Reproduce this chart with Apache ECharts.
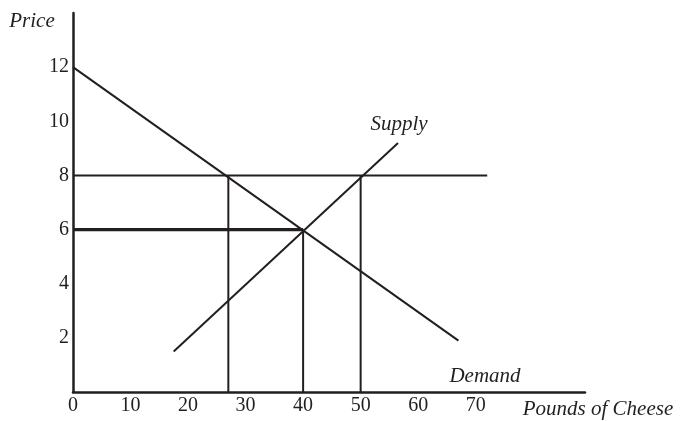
<!DOCTYPE html>
<html>
<head>
<meta charset="utf-8">
<script src="https://cdn.jsdelivr.net/npm/echarts@6/dist/echarts.min.js"></script>
<style>
html,body{margin:0;padding:0;background:#fff;}
#chart{width:683px;height:421px;}
</style>
</head>
<body>
<div id="chart"></div>
<script>
// Data
const xTickValues = [0, 10, 20, 30, 40, 50, 60, 70];
const yTickValues = [2, 4, 6, 8, 10, 12];
const demandQ = [0, 67];
const demandP = [12, 1.9];
const supplyQ = [17.5, 56.5];
const supplyP = [1.5, 9.2];
const priceLevels = [8, 6];
const priceLineEndQ = [72, 40];
const quantityLevels = [27, 40, 50];
const quantityLineTopP = [8, 6, 8];

const INK = '#231f20';
const FONT = '"Liberation Serif", "Times New Roman", serif';

function pts(xs, ys) { return xs.map((x, i) => [x, ys[i]]); }

const series = [];
series.push({
  name: 'Demand', type: 'line', data: pts(demandQ, demandP),
  symbol: 'none', lineStyle: { color: INK, width: 2 }, silent: true
});
series.push({
  name: 'Supply', type: 'line', data: pts(supplyQ, supplyP),
  symbol: 'none', lineStyle: { color: INK, width: 2 }, silent: true
});
priceLevels.forEach((p, i) => {
  series.push({
    name: 'Price ' + p, type: 'line', data: [[0, p], [priceLineEndQ[i], p]],
    symbol: 'none', lineStyle: { color: INK, width: i === 1 ? 3.2 : 2 }, silent: true
  });
});
quantityLevels.forEach((q, i) => {
  series.push({
    name: 'Quantity ' + q, type: 'line', data: [[q, 0], [q, quantityLineTopP[i]]],
    symbol: 'none', lineStyle: { color: INK, width: 2 }, silent: true
  });
});

const chart = echarts.init(document.getElementById('chart'), null, { renderer: 'canvas' });
chart.setOption({
  animation: false,
  backgroundColor: '#fff',
  grid: { left: 73, right: 98, top: 13, bottom: 29 },
  xAxis: {
    type: 'value', min: 0, max: 89, interval: 10,
    axisLine: { show: true, onZero: false, lineStyle: { color: INK, width: 2.5 } },
    axisTick: { show: false },
    splitLine: { show: false },
    axisLabel: {
      show: true, margin: 4, color: INK, fontFamily: FONT, fontSize: 20,
      showMaxLabel: false,
      formatter: v => (xTickValues.indexOf(v) >= 0 ? String(v) : '')
    }
  },
  yAxis: {
    type: 'value', min: 0, max: 14, interval: 2,
    axisLine: { show: true, onZero: false, lineStyle: { color: INK, width: 2.5 } },
    axisTick: { show: false },
    splitLine: { show: false },
    axisLabel: {
      show: true, margin: 4, color: INK, fontFamily: FONT, fontSize: 20,
      formatter: v => (yTickValues.indexOf(v) >= 0 ? String(v) : '')
    }
  },
  graphic: [
    { type: 'text', x: 32, y: 21, style: { text: 'Price', fill: INK, font: 'italic 21px ' + FONT, textAlign: 'center', textVerticalAlign: 'middle' } },
    { type: 'text', x: 399, y: 124, style: { text: 'Supply', fill: INK, font: 'italic 21px ' + FONT, textAlign: 'center', textVerticalAlign: 'middle' } },
    { type: 'text', x: 485, y: 376, style: { text: 'Demand', fill: INK, font: 'italic 21px ' + FONT, textAlign: 'center', textVerticalAlign: 'middle' } },
    { type: 'text', x: 598, y: 409, style: { text: 'Pounds of Cheese', fill: INK, font: 'italic 21px ' + FONT, textAlign: 'center', textVerticalAlign: 'middle' } }
  ],
  series: series
});
</script>
</body>
</html>
